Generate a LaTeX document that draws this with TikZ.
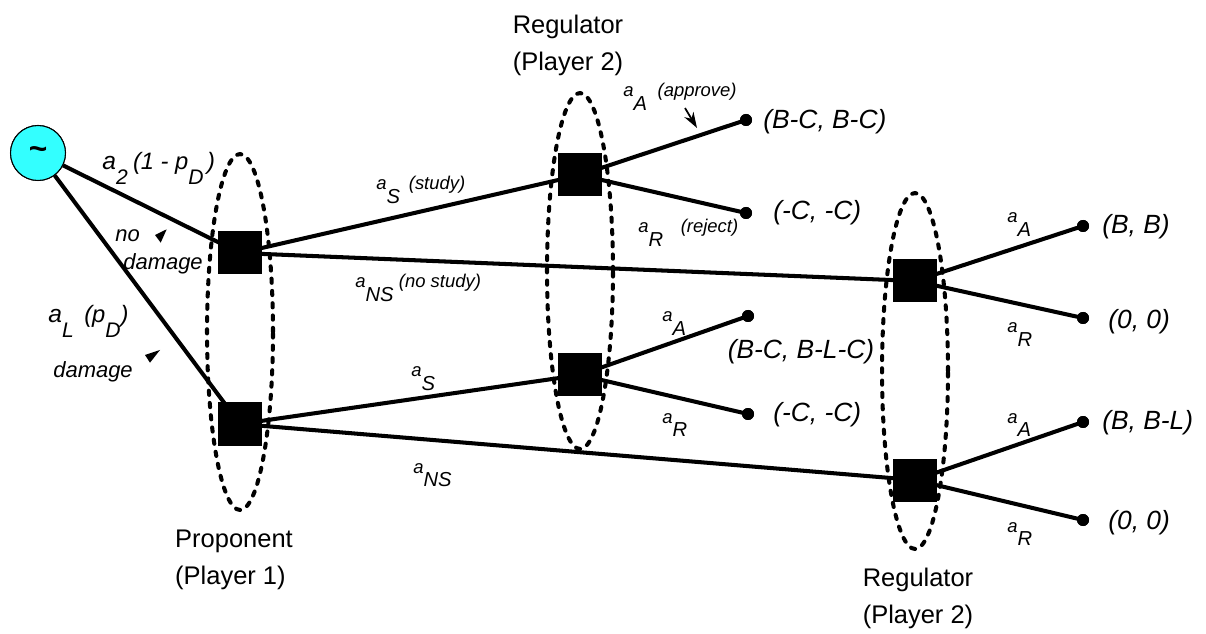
\documentclass[tikz,border=0pt]{standalone}
\usepackage{fontspec}
\setmainfont{Liberation Sans}
\usetikzlibrary{arrows.meta}
\definecolor{chancecyan}{RGB}{51,255,255}
\newcommand{\fs}[1]{\fontsize{#1}{#1}\selectfont}
\newcommand{\actlab}[1]{{\fs{10.5}\textit{a}}\raisebox{-7.5pt}{\fs{11.5}\textit{#1}}}
\newcommand{\actparen}[3]{\actlab{#1}\hspace{#2}{\fs{10.5}\textit{#3}}}
\begin{document}
\begin{tikzpicture}[x=0.02cm,y=-0.02cm,
 edge/.style={line width=2.3pt},
 decision/.style={rectangle,fill=black,minimum width=0.88cm,minimum height=0.86cm,inner sep=0pt},
 leaf/.style={circle,fill=black,minimum size=0.24cm,inner sep=0pt},
 chance/.style={circle,draw=black,line width=0.6pt,fill=chancecyan,minimum size=1.1cm,inner sep=0pt,font=\fs{18}\bfseries},
 infoset/.style={line width=2.3pt,line cap=round,dash pattern=on 2.4pt off 4.6pt},
 payoff/.style={anchor=west,inner sep=0pt,font=\fs{15}\itshape},
 player/.style={align=left,inner sep=0pt,font=\fontsize{14.5}{21}\selectfont},
 elab/.style={anchor=base west,inner sep=0pt},
 big/.style={anchor=base west,inner sep=0pt,font=\fs{12.5}\itshape},
]
\useasboundingbox (0,0) rectangle (1206,634);

% nodes
\node[chance] (ch) at (38,153) {\textasciitilde};
\node[decision] (p1a) at (240,253) {};
\node[decision] (p1b) at (240,424) {};
\node[decision] (m1) at (580,175) {};
\node[decision] (m2) at (580,375) {};
\node[decision] (r1) at (915,281) {};
\node[decision] (r2) at (915,480) {};
\node[leaf] (t1) at (746,120) {};
\node[leaf] (t2) at (746,213) {};
\node[leaf] (t3) at (748,316) {};
\node[leaf] (t4) at (748,414) {};
\node[leaf] (t5) at (1083,226) {};
\node[leaf] (t6) at (1083,318) {};
\node[leaf] (t7) at (1083,422) {};
\node[leaf] (t8) at (1083,520) {};

% edges
\draw[edge] (ch) -- (p1a.center);
\draw[edge] (ch) -- (p1b.center);
\draw[edge] (p1a.center) -- (m1.center);
\draw[edge] (p1a.center) -- (r1.center);
\draw[edge] (p1b.center) -- (m2.center);
\draw[edge] (p1b.center) -- (r2.center);
\draw[edge] (m1.center) -- (t1.center);
\draw[edge] (m1.center) -- (t2.center);
\draw[edge] (m2.center) -- (t3.center);
\draw[edge] (m2.center) -- (t4.center);
\draw[edge] (r1.center) -- (t5.center);
\draw[edge] (r1.center) -- (t6.center);
\draw[edge] (r2.center) -- (t7.center);
\draw[edge] (r2.center) -- (t8.center);

% redraw boxes, dots and chance node on top of the edges
\foreach \x/\y in {240/253,240/424,580/175,580/375,915/281,915/480}
  \fill[black] (\x-22,\y-21.5) rectangle (\x+22,\y+21.5);
\foreach \x/\y in {746/120,746/213,748/316,748/414,1083/226,1083/318,1083/422,1083/520}
  \fill[black] (\x,\y) circle (0.12cm);
\node[chance] at (38,153) {\textasciitilde};

% information sets
\draw[infoset] (240,332) ellipse [x radius=0.66cm, y radius=3.56cm];
\draw[infoset] (580,271) ellipse [x radius=0.66cm, y radius=3.56cm];
\draw[infoset] (915,371) ellipse [x radius=0.66cm, y radius=3.56cm];

% payoffs
\node[payoff] (y1) at (763,122) {(B-C, B-C)};
\node[payoff] (y2) at (773,213) {(-C, -C)};
\node[payoff,anchor=center] (y3) at (801,352) {(B-C, B-L-C)};
\node[payoff] (y4) at (773,415) {(-C, -C)};
\node[payoff] (y5) at (1102,227) {(B, B)};
\node[payoff] (y6) at (1108,322) {(0, 0)};
\node[payoff] (y7) at (1102,423) {(B, B-L)};
\node[payoff] (y8) at (1108,523) {(0, 0)};

% player labels
\node[player] (pl1) at (568,45) {Regulator\\(Player 2)};
\node[player] (pl2) at (234,560) {Proponent\\(Player 1)};
\node[player] (pl3) at (918,598) {Regulator\\(Player 2)};

% action labels
\node[elab] (l1) at (376,190) {\actparen{S}{5pt}{(study)}};
\node[elab] (l2) at (355,288) {\actparen{NS}{3pt}{(no study)}};
\node[elab] (l3) at (623,97) {\actparen{A}{6pt}{(approve)}};
\node[elab] (l4) at (638,233) {\actparen{R}{10pt}{(reject)}};
\node[elab] (l5) at (411,377) {\actlab{S}};
\node[elab] (l6) at (413,473) {\actlab{NS}};
\node[elab] (l7) at (662,322) {\actlab{A}};
\node[elab] (l8) at (662,423) {\actlab{R}};
\node[elab] (l9) at (1007,223) {\actlab{A}};
\node[elab] (l10) at (1007,333) {\actlab{R}};
\node[elab] (l11) at (1007,423) {\actlab{A}};
\node[elab] (l12) at (1007,532) {\actlab{R}};

% chance labels
\node[big] (c1) at (102,170) {{\fs{14}a}\raisebox{-8.5pt}{\fs{12}\textit{2}}\hspace{3pt}{\fs{13.5}(1 - p}\raisebox{-8.5pt}{\fs{12}\textit{D}}\hspace{2pt}{\fs{13.5})}};
\node[big] (c2) at (48,323) {{\fs{14}a}\raisebox{-8.5pt}{\fs{12}\textit{L}}\hspace{6pt}{\fs{13.5}(p}\raisebox{-8.5pt}{\fs{12}\textit{D}}{\fs{13.5})}};
\node[big] (c3) at (115,242) {no};
\node[big] (c4) at (123,270) {damage};
\node[big] (c5) at (53,378) {damage};

% pointer heads
\fill (155,235) -- (160.7,242.7) -- (166.7,229.3) -- cycle;
\fill (145,355) -- (150,362.7) -- (160,350) -- cycle;
\coordinate (ap0) at (685,108);
\coordinate (ap1) at (697,128);
\draw[line width=1pt,-{Stealth[length=9pt,width=6pt]}] (ap0) -- (ap1);
\end{tikzpicture}
\end{document}
